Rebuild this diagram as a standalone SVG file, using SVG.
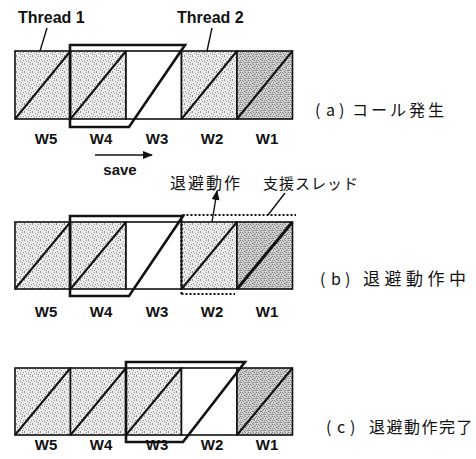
<svg xmlns="http://www.w3.org/2000/svg" width="476" height="459" viewBox="0 0 476 459">
<style>
.box{stroke:#111;stroke-width:1.6}
.lt{fill:url(#stipL)}
.dk{fill:url(#stipD)}
.wh{fill:#fff}
.diag{stroke:#111;stroke-width:2;fill:none}
.thick{stroke:#111;stroke-width:3;fill:none}
.outl{stroke:#111;stroke-width:2.6;fill:none;stroke-linejoin:miter}
.dot{stroke:#111;stroke-width:2.2;fill:none;stroke-dasharray:2 2}
.lead{stroke:#111;stroke-width:1.4;fill:none}
.wl{font-family:"Liberation Sans",Arial,sans-serif;font-weight:bold;font-size:15px;text-anchor:middle;fill:#111}
.th{font-family:"Liberation Sans",Arial,sans-serif;font-weight:bold;font-size:16px;fill:#111}
.jp{font-family:"Noto Sans CJK JP","Noto Sans",sans-serif;font-size:15px;fill:#111}
.cap{font-family:"Noto Sans CJK JP","Noto Sans",sans-serif;font-size:16px;fill:#111}
</style>
<defs>
<pattern id="stipL" width="8" height="8" patternUnits="userSpaceOnUse">
<rect width="8" height="8" fill="#eeeeee"/>
<path fill="#8a8a8a" d="M0,0h1v1h-1z M3,1h1v1h-1z M6,0h1v1h-1z M1,3h1v1h-1z M5,2h1v1h-1z M7,4h1v1h-1z M2,5h1v1h-1z M4,6h1v1h-1z M0,7h1v1h-1z M6,6h1v1h-1z M4,4h1v1h-1z"/>
</pattern>
<pattern id="stipD" width="8" height="8" patternUnits="userSpaceOnUse">
<rect width="8" height="8" fill="#d4d4d4"/>
<path fill="#7a7a7a" d="M0,0h1v1h-1z M2,0h1v1h-1z M5,0h1v1h-1z M7,1h1v1h-1z M1,2h1v1h-1z M3,1h1v1h-1z M4,3h1v1h-1z M6,2h1v1h-1z M0,4h1v1h-1z M2,4h1v1h-1z M6,4h1v1h-1z M1,6h1v1h-1z M3,5h1v1h-1z M5,6h1v1h-1z M7,6h1v1h-1z M4,7h1v1h-1z M0,6h1v1h-1z M5,3h1v1h-1z"/>
</pattern>
<marker id="ah" markerWidth="10" markerHeight="8" refX="9" refY="4" orient="auto" markerUnits="userSpaceOnUse">
<path d="M0,0 L10,4 L0,8 Z" fill="#111"/>
</marker>
</defs>

<!-- Row (a) -->
<g id="a-W5"><rect class="box lt" x="15" y="51" width="55.5" height="68"/><line class="diag" x1="15" y1="119" x2="70.5" y2="51"/><text class="wl" x="46" y="144">W5</text></g>
<g id="a-W4"><rect class="box lt" x="70.5" y="51" width="55.5" height="68"/><line class="diag" x1="70.5" y1="119" x2="126" y2="51"/><text class="wl" x="101" y="144">W4</text></g>
<g id="a-W3"><rect class="box wh" x="126" y="51" width="55.5" height="68"/><text class="wl" x="157" y="144">W3</text></g>
<g id="a-W2"><rect class="box lt" x="181.5" y="51" width="55.5" height="68"/><line class="diag" x1="181.5" y1="119" x2="237" y2="51"/><text class="wl" x="212" y="144">W2</text></g>
<g id="a-W1"><rect class="box dk" x="237" y="51" width="55.5" height="68"/><line class="diag" x1="237" y1="119" x2="292.5" y2="51"/><text class="wl" x="267" y="144">W1</text></g>
<g id="a-window"><path class="outl" d="M70,45 H185 L129,127 H70 Z"/></g>
<g id="thread1"><text class="th" x="18" y="23">Thread 1</text></g>
<g id="thread2"><text class="th" x="177" y="23">Thread 2</text></g>
<g id="label-a"><text class="cap" y="116"><tspan x="315">(</tspan><tspan x="326">a</tspan><tspan x="339">)</tspan><tspan x="352" style="letter-spacing:3px">コール発生</tspan></text></g>
<g id="save"><text class="wl" x="120" y="175">save</text></g>

<!-- Row (b) -->
<g id="b-W5"><rect class="box lt" x="15" y="222" width="55.5" height="67"/><line class="diag" x1="15" y1="289" x2="70.5" y2="222"/><text class="wl" x="46" y="317">W5</text></g>
<g id="b-W4"><rect class="box lt" x="70.5" y="222" width="55.5" height="67"/><line class="diag" x1="70.5" y1="289" x2="126" y2="222"/><text class="wl" x="101" y="317">W4</text></g>
<g id="b-W3"><rect class="box wh" x="126" y="222" width="55.5" height="67"/><text class="wl" x="157" y="317">W3</text></g>
<g id="b-W2"><rect class="box lt" x="181.5" y="222" width="55.5" height="67"/><line class="diag" x1="181.5" y1="289" x2="237" y2="222"/><text class="wl" x="212" y="317">W2</text></g>
<g id="b-W1"><rect class="box dk" x="237" y="222" width="55.5" height="67"/><line class="thick" x1="237" y1="289" x2="292.5" y2="222"/><text class="wl" x="267" y="317">W1</text></g>
<g id="b-window"><path class="outl" d="M70,216 H183 L129,296 H70 Z"/></g>
<g id="b-support"><path class="dot" d="M181.5,294 V215 H296 M181.5,294 H235"/></g>
<g id="label-save-op"><text class="jp" x="170" y="189" style="font-size:16px;letter-spacing:2px">退避動作</text></g>
<g id="label-support"><text class="jp" x="263" y="189" style="letter-spacing:1px">支援スレッド</text></g>
<g id="label-b"><text class="cap" y="285"><tspan x="320">(</tspan><tspan x="331">b</tspan><tspan x="345">)</tspan><tspan x="363" style="font-size:17px;letter-spacing:4.5px">退避動作中</tspan></text></g>

<!-- Row (c) -->
<g id="c-W5"><rect class="box lt" x="15" y="368" width="55.5" height="67"/><line class="diag" x1="15" y1="435" x2="70.5" y2="368"/><text class="wl" x="46" y="450">W5</text></g>
<g id="c-W4"><rect class="box lt" x="70.5" y="368" width="55.5" height="67"/><line class="diag" x1="70.5" y1="435" x2="126" y2="368"/><text class="wl" x="101" y="450">W4</text></g>
<g id="c-W3"><rect class="box lt" x="126" y="368" width="55.5" height="67"/><line class="diag" x1="126" y1="435" x2="181.5" y2="368"/><text class="wl" x="157" y="450">W3</text></g>
<g id="c-W2"><rect class="box wh" x="181.5" y="368" width="55.5" height="67"/><text class="wl" x="212" y="450">W2</text></g>
<g id="c-W1"><rect class="box dk" x="237" y="368" width="55.5" height="67"/><line class="diag" x1="237" y1="435" x2="292.5" y2="368"/><text class="wl" x="267" y="450">W1</text></g>
<g id="c-window"><path class="outl" d="M126,362 H245 L183,442 H126 Z"/></g>
<g id="label-c"><text class="cap" y="433"><tspan x="326">(</tspan><tspan x="337">c</tspan><tspan x="350">)</tspan><tspan x="369" style="letter-spacing:1.5px">退避動作完了</tspan></text></g>

<g id="connectors">
<line class="lead" x1="40" y1="51" x2="47" y2="28"/>
<line class="lead" x1="207" y1="51" x2="212" y2="28"/>
<line class="lead" x1="95" y1="155" x2="152" y2="155" marker-end="url(#ah)"/>
<line class="lead" x1="212" y1="222" x2="217" y2="191" marker-end="url(#ah)"/>
<line class="lead" x1="268" y1="215" x2="285" y2="193"/>
</g>
</svg>
